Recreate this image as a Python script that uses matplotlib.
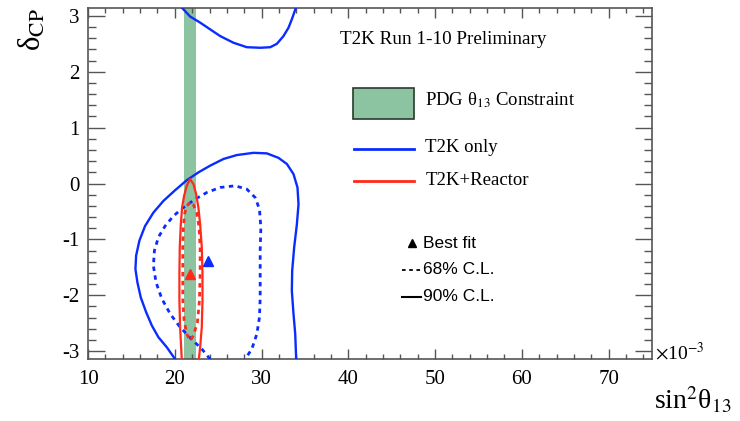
import matplotlib.pyplot as plt
from matplotlib.patches import Rectangle
from matplotlib.lines import Line2D
import numpy as np

plt.rcParams['font.family'] = ['Liberation Serif', 'DejaVu Serif']
plt.rcParams['mathtext.fontset'] = 'stix'
plt.rcParams['axes.unicode_minus'] = False

PI = np.pi

# sin^2(theta13) in units of 1e-3, delta_CP in rad
pdg_s13 = 21.8
pdg_err = 0.7

# T2K only, 90% C.L. (main island)
t2k90_x = [20.03, 19.08, 18.11, 17.35, 16.69, 16.08, 15.69, 15.46, 15.54, 15.92, 16.57,
           17.53, 18.69, 20.03, 21.38, 22.72, 24.07, 25.61, 27.15, 29.07, 30.61, 31.95,
           32.92, 33.68, 34.14, 34.26, 34.07, 33.76, 33.53, 33.49, 33.68, 33.88, 33.99]
t2k90_y = [-PI, -2.93, -2.75, -2.54, -2.30, -2.04, -1.77, -1.53, -1.29, -1.02, -0.76,
           -0.52, -0.31, -0.12, 0.06, 0.20, 0.32, 0.44, 0.51, 0.55, 0.54, 0.46,
           0.35, 0.17, -0.07, -0.37, -0.73, -1.14, -1.56, -1.92, -2.33, -2.69, -PI]
# same contour, wrapped around at delta_CP = +pi
t2k90_top_x = [20.85, 21.76, 22.92, 24.07, 25.22, 26.76, 28.30, 29.84, 31.0, 31.76,
               32.53, 33.11, 33.49, 33.95]
t2k90_top_y = [PI, 2.99, 2.88, 2.76, 2.64, 2.52, 2.44, 2.43, 2.44, 2.50,
               2.64, 2.79, 2.94, PI]

# T2K only, 68% C.L.
t2k68_x = [24.07, 23.11, 21.96, 20.61, 19.46, 18.50, 17.84, 17.53, 17.65, 18.11, 18.88,
           19.84, 20.99, 22.34, 23.69, 25.22, 26.95, 28.30, 29.26, 29.76, 29.92, 29.84,
           29.84, 29.84, 29.76, 29.46, 28.88, 28.11]
t2k68_y = [-PI, -2.96, -2.79, -2.57, -2.33, -2.06, -1.77, -1.47, -1.20, -0.96, -0.76,
           -0.58, -0.43, -0.28, -0.16, -0.07, -0.04, -0.10, -0.25, -0.46, -0.79, -1.20,
           -1.62, -2.04, -2.39, -2.69, -2.96, -PI]

# T2K+Reactor, 90% C.L.
rea90_x = [20.80, 20.73, 20.61, 20.53, 20.53, 20.57, 20.69, 20.84, 21.07, 21.38, 21.76,
           22.15, 22.46, 22.72, 22.92, 23.11, 23.19, 23.19, 23.11, 22.92, 22.77]
rea90_y = [-PI, -2.93, -2.57, -2.09, -1.62, -1.14, -0.73, -0.43, -0.22, -0.04, 0.08,
           -0.01, -0.19, -0.43, -0.73, -1.14, -1.62, -2.09, -2.57, -2.93, -PI]

# T2K+Reactor, 68% C.L.
rea68_x = [21.76, 21.38, 21.11, 20.99, 20.92, 20.92, 20.92, 21.07, 21.38, 21.76, 22.15,
           22.61, 22.84, 22.92, 22.92, 22.80, 22.53, 22.15, 21.76]
rea68_y = [-0.34, -0.40, -0.55, -0.79, -1.14, -1.62, -2.09, -2.45, -2.69, -2.81, -2.72,
           -2.48, -2.09, -1.62, -1.14, -0.79, -0.52, -0.38, -0.34]

# best fit points
bf_t2k = (23.85, -1.38)
bf_rea = (21.8, -1.62)

blue = '#0a2cff'
red = '#ff2a1a'
green = '#8cc3a0'

fig = plt.figure(figsize=(7.4, 4.21), dpi=100)
ax = fig.add_axes([0.119, 0.147, 0.762, 0.834])

ax.axvspan(pdg_s13 - pdg_err, pdg_s13 + pdg_err, color=green, lw=0, zorder=1)

dash = (0, (1.6, 1.6))
ax.plot(t2k90_x, t2k90_y, color=blue, lw=1.7, zorder=3)
ax.plot(t2k90_top_x, t2k90_top_y, color=blue, lw=1.7, zorder=3)
ax.plot(t2k68_x, t2k68_y, color=blue, lw=2.0, ls=dash, zorder=3)
ax.plot(rea90_x, rea90_y, color=red, lw=1.6, zorder=4)
ax.plot(rea68_x, rea68_y, color=red, lw=2.0, ls=dash, zorder=4)
ax.plot(*bf_t2k, marker='^', color=blue, ms=7, zorder=5)
ax.plot(*bf_rea, marker='^', color=red, ms=7, zorder=5)

ax.set_xlim(10, 75)
ax.set_ylim(-PI, PI)
ax.set_xticks([10, 20, 30, 40, 50, 60, 70])
ax.set_yticks([-3, -2, -1, 0, 1, 2, 3])
ax.set_xticks(np.arange(10, 76, 2), minor=True)
ax.set_yticks(np.arange(-3, 3.01, 0.2), minor=True)
ax.tick_params(axis='both', which='both', direction='in', top=True, right=True,
               color='#555555', width=1.0, labelsize=15, labelcolor='black')
ax.tick_params(axis='y', which='major', length=12, pad=6)
ax.tick_params(axis='y', which='minor', length=6)
ax.tick_params(axis='x', which='major', length=7, pad=8)
ax.tick_params(axis='x', which='minor', length=3.5)
for sp in ax.spines.values():
    sp.set_color('#555555')
    sp.set_linewidth(1.2)

ax.text(-0.099, 0.937, 'δ$_{\\rm CP}$', transform=ax.transAxes, rotation=90,
        fontsize=22, ha='center', va='center')
ax.text(1.003, -0.117, 'sin$^{2}$θ$_{13}$', transform=ax.transAxes,
        fontsize=20, ha='left', va='center')
ax.text(1.006, 0.02, r'$\times$10$^{-3}$', transform=ax.transAxes,
        fontsize=14, ha='left', va='center')

# legend
ax.text(0.447, 0.909, 'T2K Run 1-10 Preliminary', transform=ax.transAxes,
        fontsize=13.8, ha='left', va='center')
ax.add_patch(Rectangle((0.470, 0.684), 0.108, 0.088, transform=ax.transAxes,
                       facecolor=green, edgecolor='#2a3a30', lw=1.2, zorder=6))
ax.text(0.598, 0.738, 'PDG θ$_{13}$ Constraint', transform=ax.transAxes,
        fontsize=13.5, ha='left', va='center')
ax.add_line(Line2D([0.472, 0.578], [0.598, 0.598], transform=ax.transAxes,
                   color=blue, lw=2))
ax.text(0.598, 0.603, 'T2K only', transform=ax.transAxes,
        fontsize=13.5, ha='left', va='center')
ax.add_line(Line2D([0.472, 0.578], [0.507, 0.507], transform=ax.transAxes,
                   color=red, lw=2))
ax.text(0.598, 0.510, 'T2K+Reactor', transform=ax.transAxes,
        fontsize=13.5, ha='left', va='center')

sans = ['Liberation Sans', 'DejaVu Sans']
ax.plot([0.574], [0.330], marker='^', color='black', ms=6, transform=ax.transAxes)
ax.text(0.594, 0.330, 'Best fit', transform=ax.transAxes, family=sans,
        fontsize=12.5, ha='left', va='center')
ax.add_line(Line2D([0.557, 0.590], [0.254, 0.254], transform=ax.transAxes,
                   color='black', lw=1.3, ls=(0, (2, 2))))
ax.text(0.594, 0.254, '68% C.L.', transform=ax.transAxes, family=sans,
        fontsize=12.5, ha='left', va='center')
ax.add_line(Line2D([0.557, 0.590], [0.177, 0.177], transform=ax.transAxes,
                   color='black', lw=1.5))
ax.text(0.594, 0.177, '90% C.L.', transform=ax.transAxes, family=sans,
        fontsize=12.5, ha='left', va='center')

plt.savefig('out.png', dpi=100)
